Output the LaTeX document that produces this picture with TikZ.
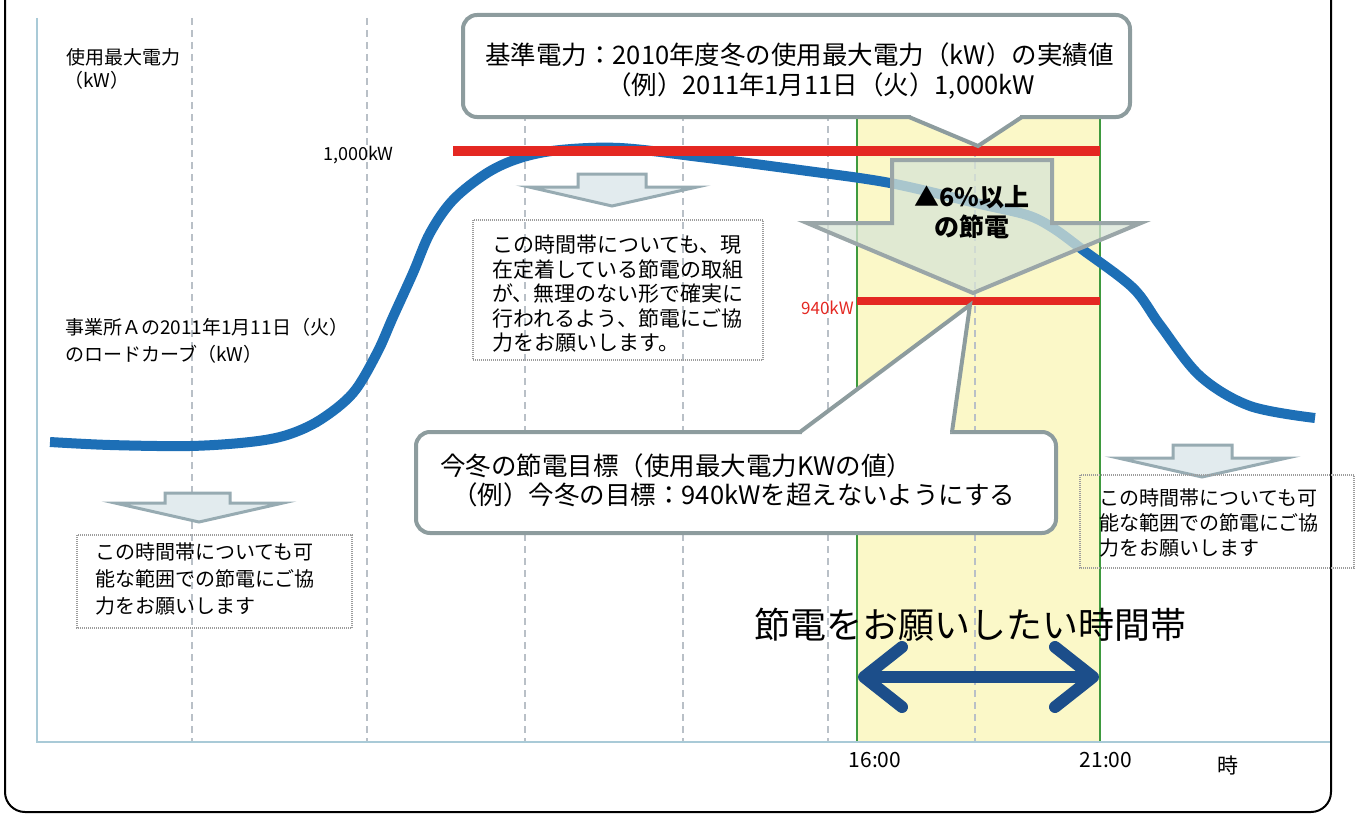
\documentclass[tikz,border=0pt]{standalone}
\usepackage{fontspec}
\setmainfont{Noto Sans CJK JP}
\usetikzlibrary{arrows.meta}
\definecolor{curveblue}{HTML}{1D6FB6}
\definecolor{limitred}{HTML}{E42822}
\definecolor{bandyellow}{HTML}{FBF8C8}
\definecolor{bandgreen}{HTML}{3E9A3E}
\definecolor{axisblue}{HTML}{A9CAD7}
\definecolor{gridgray}{HTML}{B9C0C7}
\definecolor{callgray}{HTML}{8D9C9E}
\definecolor{bigfill}{HTML}{D8E4D6}
\definecolor{bigline}{HTML}{9AA6A8}
\definecolor{smallfill}{HTML}{E2EBEE}
\definecolor{smallline}{HTML}{97ABB2}
\definecolor{navy}{HTML}{1C4E8A}
\definecolor{boxgray}{HTML}{9C9C9C}
\tikzset{
  grid line/.style={gridgray, line width=1.2pt, dash pattern=on 7pt off 5pt},
  axis line/.style={axisblue, line width=2.5pt},
  limit line/.style={limitred, line width=10pt},
  callout box/.style={fill=white, draw=callgray, line width=4pt, rounded corners=14pt},
  callout edge/.style={draw=callgray, line width=4pt, line join=miter},
  big arrow/.style={fill=bigfill, fill opacity=0.75, draw=bigline, line width=4pt, draw opacity=1},
  small arrow/.style={fill=smallfill, draw=smallline, line width=3pt, line join=miter},
  note box/.style={draw=boxgray, line width=1.2pt, dash pattern=on 1pt off 1pt},
  label/.style={inner sep=0pt, text=black},
  note text/.style={inner sep=0pt, align=left, anchor=north west},
  span arrow/.style={navy, line width=12pt, {Straight Barb[length=38pt,width=60pt,round]}-{Straight Barb[length=38pt,width=60pt,round]}}
}
\begin{document}
\begin{tikzpicture}[x=1pt,y=-1pt]
\useasboundingbox (0,0) rectangle (1360,816);
% outer frame
\draw[black, line width=2pt, rounded corners=20pt] (5,-40) rectangle (1331,812);
% time band
\fill[bandyellow] (857,40) rectangle (1100,742);
% grid
\foreach \gx in {192,367,525,683,828,975}
  \draw[grid line] (\gx,18) -- (\gx,742);
\draw[bandgreen, line width=1.3pt] (857,118) -- (857,742);
\draw[bandgreen, line width=1.3pt] (1100,118) -- (1100,742);
% axes
\draw[axis line] (37,18) -- (37,742) -- (1330,742);
% load curve
\draw[curveblue, line width=10pt, line cap=butt] plot[smooth, tension=0.55] coordinates {
 (50,442) (110,445) (190,446) (250,442) (287,435) (320,420) (353,393) (377,353)
 (393,317) (413,273) (430,233) (453,200) (487,173) (520,158) (560,150) (620,148)
 (700,157) (800,170) (890,183) (980,204) (1027,215) (1053,228) (1083,250) (1133,288)
 (1160,325) (1200,376) (1250,406) (1315,418)};
% limit lines
\draw[limit line] (453,151) -- (1100,151);
\draw[limit line, line width=8pt] (857,301) -- (1100,301);
% big arrow
\path[big arrow] (892,160) -- (1052,160) -- (1052,223) -- (1141,223) -- (973,293)
  -- (807,223) -- (892,223) -- cycle;
\node[label, font=\fontsize{25}{25}\selectfont\bfseries] (pct) at (972,197) {▲6\%以上};
\node[label, font=\fontsize{25}{25}\selectfont\bfseries] (save) at (972,227) {の節電};
% small arrows
\path[small arrow] (165,493) -- (230,493) -- (230,503) -- (283,503) -- (199,522)
  -- (115,503) -- (165,503) -- cycle;
\path[small arrow] (578,174) -- (646,174) -- (646,187) -- (697,187) -- (612,206)
  -- (529,187) -- (578,187) -- cycle;
\path[small arrow] (1173,445) -- (1232,445) -- (1232,458) -- (1287,458) -- (1202,477)
  -- (1118,458) -- (1173,458) -- cycle;
% note boxes
\draw[note box] (77,535) rectangle (352,628);
\draw[note box] (473,220) rectangle (763,360);
\draw[note box] (1080,475) rectangle (1354,568);
\node[note text, font=\fontsize{20}{27}\selectfont] (noteL) at (95,542)
  {この時間帯についても可\\能な範囲での節電にご協\\力をお願いします};
\node[note text, font=\fontsize{21}{24.5}\selectfont] (noteM) at (492,235)
  {この時間帯についても、現\\在定着している節電の取組\\が、無理のない形で確実に\\行われるよう、節電にご協\\力をお願いします。};
\node[note text, font=\fontsize{20}{25}\selectfont] (noteR) at (1099,488)
  {この時間帯についても可\\能な範囲での節電にご協\\力をお願いします};
% top callout
\path[callout box] (463,15) rectangle (1130,117);
\fill[white] (911,113) rectangle (1020,120);
\path[fill=white, callout edge] (909,117) -- (978,146) -- (1022,117);
\node[label, anchor=west, font=\fontsize{25.5}{25.5}\selectfont] (base1) at (485,55)
  {基準電力：2010年度冬の使用最大電力（kW）の実績値};
\node[label, anchor=west, font=\fontsize{25.5}{25.5}\selectfont] (base2) at (606,86)
  {（例）2011年1月11日（火）1,000kW};
% lower callout
\path[callout box] (416,432) rectangle (1056,533);
\fill[white] (802,428) rectangle (950,436);
\path[fill=white, callout edge] (800,432) -- (970,305) -- (952,432);
\node[label, anchor=west, font=\fontsize{25.5}{25.5}\selectfont] (goal1) at (440,466)
  {今冬の節電目標（使用最大電力KWの値）};
\node[label, anchor=west, font=\fontsize{25.5}{25.5}\selectfont] (goal2) at (452,495)
  {（例）今冬の目標：940kWを超えないようにする};
% axis labels
\node[label, anchor=west, font=\fontsize{19}{19}\selectfont] (ylab1) at (66,57) {使用最大電力};
\node[label, anchor=west, font=\fontsize{19}{19}\selectfont] (ylab2) at (64,80) {（kW）};
\node[label, anchor=east, font=\fontsize{18}{18}\selectfont] (k1000) at (394,155) {1,000kW};
\node[label, anchor=east, text=limitred, font=\fontsize{17}{17}\selectfont] (k940) at (854,308) {940kW};
\node[label, anchor=west, font=\fontsize{19}{19}\selectfont] (cur1) at (65,327) {事業所Ａの2011年1月11日（火）};
\node[label, anchor=west, font=\fontsize{19}{19}\selectfont] (cur2) at (65,354) {のロードカーブ（kW）};
\node[label, font=\fontsize{21}{21}\selectfont] (t16) at (875,760) {16:00};
\node[label, font=\fontsize{21}{21}\selectfont] (t21) at (1106,760) {21:00};
\node[label, font=\fontsize{21}{21}\selectfont] (hour) at (1228,765) {時};
\node[label, anchor=west, font=\fontsize{36}{36}\selectfont] (period) at (754,625) {節電をお願いしたい時間帯};
% period arrow
\coordinate (pL) at (858,677);
\coordinate (pR) at (1099,677);
\draw[span arrow] (pL) -- (pR);
\end{tikzpicture}
\end{document}
